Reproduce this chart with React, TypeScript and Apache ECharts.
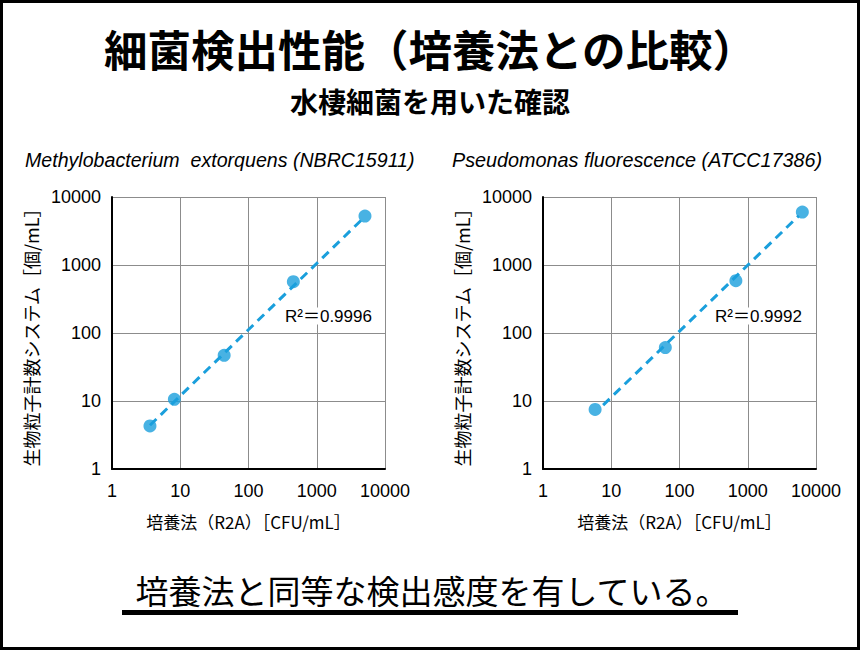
import React, { useEffect, useRef } from "react";
import * as echarts from "echarts";

// ---- data ----
const leftX = [3.6, 8.2, 44, 454, 5090];
const leftY = [4.3, 10.6, 47, 568, 5250];
const leftFitX = [3.6, 5090];
const leftFitY = [4.4, 5150];
const rightX = [5.8, 62, 670, 6310];
const rightY = [7.5, 61, 588, 6000];
const rightFitX = [7.6, 5600];
const rightFitY = [8.7, 5300];
const axisRange = [1, 10000];
const leftR2 = "R²＝0.9996";
const rightR2 = "R²＝0.9992";
const mainTitle = "細菌検出性能（培養法との比較）";
const subTitle = "水棲細菌を用いた確認";
const leftSpecies = "Methylobacterium  extorquens (NBRC15911)";
const rightSpecies = "Pseudomonas fluorescence (ATCC17386)";
const yName = "生物粒子計数システム［個/mL］";
const xName = "培養法（R2A）［CFU/mL］";
const conclusion = "培養法と同等な検出感度を有している。";

const BLUE = "#1a9fdc";
const NUM_FONT = "'Liberation Sans', Arial, sans-serif";
const JP_FONT = "'Noto Sans CJK JP', sans-serif";

function zip(a: number[], b: number[]) {
  return a.map((v, i) => [v, b[i]]);
}

const fmt = (v: number) => String(Math.round(v));

function makeX(gridIndex: number) {
  return {
    type: "log",
    logBase: 10,
    gridIndex,
    min: axisRange[0],
    max: axisRange[1],
    name: xName,
    nameLocation: "middle",
    nameGap: 44,
    nameTextStyle: { color: "#000", fontSize: 17, fontFamily: JP_FONT },
    axisLine: { show: true, lineStyle: { color: "#000", width: 2 } },
    axisTick: { show: false },
    axisLabel: { color: "#000", fontSize: 18, fontFamily: NUM_FONT, margin: 13, formatter: fmt },
    splitLine: { show: true, lineStyle: { color: "#8c8c8c", width: 1 } },
    minorTick: { show: false },
  };
}

function makeY(gridIndex: number) {
  return {
    type: "log",
    logBase: 10,
    gridIndex,
    min: axisRange[0],
    max: axisRange[1],
    name: yName,
    nameLocation: "middle",
    nameGap: 72,
    nameTextStyle: { color: "#000", fontSize: 18, fontFamily: JP_FONT },
    axisLine: { show: true, lineStyle: { color: "#000", width: 2 } },
    axisTick: { show: false },
    axisLabel: { color: "#000", fontSize: 18, fontFamily: NUM_FONT, margin: 11, formatter: fmt },
    splitLine: { show: true, lineStyle: { color: "#8c8c8c", width: 1 } },
  };
}

function fitSeries(idx: number, xs: number[], ys: number[]) {
  return {
    type: "line",
    xAxisIndex: idx,
    yAxisIndex: idx,
    data: zip(xs, ys),
    showSymbol: false,
    symbol: "none",
    lineStyle: { color: BLUE, width: 3, type: [9, 6] },
    z: 3,
  };
}

function dotSeries(idx: number, xs: number[], ys: number[]) {
  return {
    type: "scatter",
    xAxisIndex: idx,
    yAxisIndex: idx,
    data: zip(xs, ys),
    symbol: "circle",
    symbolSize: 13,
    itemStyle: { color: BLUE },
    z: 4,
  };
}

function label(x: number, y: number, text: string, extra: any) {
  return {
    type: "text",
    x,
    y,
    z: 10,
    style: {
      text,
      fill: "#000",
      align: "left",
      verticalAlign: "middle",
      ...extra,
    },
  };
}

export default function App() {
  const ref = useRef<HTMLDivElement>(null);

  useEffect(() => {
    document.body.style.margin = "0";
    if (!ref.current) return;
    const chart = echarts.init(ref.current, null, { renderer: "svg" });
    chart.setOption({
      animation: false,
      backgroundColor: "#fff",
      grid: [
        { left: 112, top: 197, width: 273, height: 272 },
        { left: 543, top: 197, width: 273, height: 272 },
      ],
      xAxis: [makeX(0), makeX(1)],
      yAxis: [makeY(0), makeY(1)],
      series: [
        fitSeries(0, leftFitX, leftFitY),
        dotSeries(0, leftX, leftY),
        fitSeries(1, rightFitX, rightFitY),
        dotSeries(1, rightX, rightY),
      ],
      graphic: [
        {
          type: "rect",
          shape: { x: 1.5, y: 1.5, width: 857, height: 647 },
          style: { fill: "none", stroke: "#000", lineWidth: 3 },
          silent: true,
        },
        label(430, 48, mainTitle, {
          fontSize: 43.5,
          fontWeight: "bold",
          fontFamily: JP_FONT,
          align: "center",
        }),
        label(430, 101, subTitle, {
          fontSize: 28,
          fontWeight: "bold",
          fontFamily: JP_FONT,
          align: "center",
        }),
        label(25, 160, leftSpecies, {
          fontSize: 19.6,
          fontStyle: "italic",
          fontFamily: NUM_FONT,
        }),
        label(452, 160, rightSpecies, {
          fontSize: 19.8,
          fontStyle: "italic",
          fontFamily: NUM_FONT,
        }),
        label(285, 316, leftR2, {
          fontSize: 17,
          fontFamily: NUM_FONT + ", 'Noto Sans CJK JP'",
          backgroundColor: "#fff",
        }),
        label(715, 316, rightR2, {
          fontSize: 17,
          fontFamily: NUM_FONT + ", 'Noto Sans CJK JP'",
          backgroundColor: "#fff",
        }),
        label(432, 590, conclusion, {
          fontSize: 33,
          fontFamily: JP_FONT,
          align: "center",
        }),
        {
          type: "rect",
          shape: { x: 122, y: 610, width: 616, height: 5 },
          style: { fill: "#000" },
        },
      ],
    });
    return () => chart.dispose();
  }, []);

  return (
    <div
      ref={ref}
      style={{ position: "absolute", left: 0, top: 0, width: 860, height: 650 }}
    />
  );
}
